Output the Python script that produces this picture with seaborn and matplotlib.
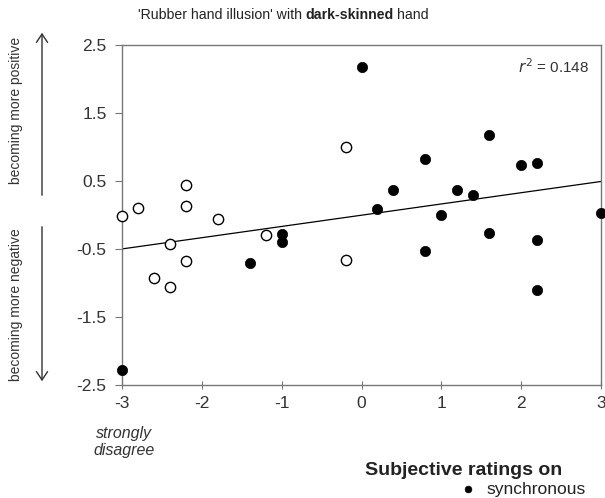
import numpy as np
import pandas as pd
import seaborn as sns
import matplotlib
matplotlib.use('Agg')
import matplotlib.pyplot as plt

# ratings (x) and change scores (y)
sync_x = [-3.0, -1.4, -1.0, -1.0, 0.0, 0.2, 0.4, 0.8, 0.8, 1.0, 1.2, 1.4, 1.6, 1.6, 2.0, 2.2, 2.2, 2.2, 3.0]
sync_y = [-2.28, -0.71, -0.28, -0.40, 2.17, 0.09, 0.37, 0.83, -0.53, 0.0, 0.37, 0.29, 1.17, -0.27, 0.73, 0.76, -0.37, -1.11, 0.03]
async_x = [-3.0, -2.8, -2.6, -2.4, -2.4, -2.2, -2.2, -2.2, -1.8, -1.2, -0.2, -0.2]
async_y = [-0.02, 0.10, -0.93, -0.42, -1.06, 0.44, 0.13, -0.67, -0.06, -0.29, 1.0, -0.66]

x_ticks = [-3, -2, -1, 0, 1, 2, 3]
y_ticks = [-2.5, -1.5, -0.5, 0.5, 1.5, 2.5]

df = pd.DataFrame({
    'rating': sync_x + async_x,
    'change': sync_y + async_y,
    'condition': ['synchronous'] * len(sync_x) + ['asynchronous'] * len(async_x),
})

sns.set_style('white')
plt.rcParams['font.family'] = ['Liberation Sans', 'DejaVu Sans']

fig = plt.figure(figsize=(6.05, 4.98), dpi=100)
ax = fig.add_axes([122 / 605, 113 / 498, 479 / 605, 340 / 498])
ax.set_xlim(-3, 3)
ax.set_ylim(-2.5, 2.5)

# regression over all points
sns.regplot(data=df, x='rating', y='change', scatter=False, ci=None, truncate=True,
            line_kws={'color': 'black', 'lw': 0.9}, ax=ax)

sns.scatterplot(data=df[df.condition == 'asynchronous'], x='rating', y='change',
                s=55, facecolor='white', edgecolor='black', linewidth=1.0, ax=ax,
                clip_on=False, zorder=3)
sns.scatterplot(data=df[df.condition == 'synchronous'], x='rating', y='change',
                s=55, color='black', edgecolor='black', linewidth=0.5, ax=ax,
                clip_on=False, zorder=4, label='synchronous')

ax.set_xlim(-3, 3)
ax.set_ylim(-2.5, 2.5)
ax.set_xticks(x_ticks)
ax.set_yticks(y_ticks)
ax.set_xticklabels([str(v) for v in x_ticks])
ax.set_yticklabels([f'{v:.1f}' for v in y_ticks])
ax.set_xlabel('')
ax.set_ylabel('')
for s in ax.spines.values():
    s.set_color('#777777')
    s.set_linewidth(1.0)
ax.tick_params(axis='y', direction='out', length=5, width=0.8, color='#777777',
               labelsize=12.5, labelcolor='#333333', pad=6, left=True)
ax.tick_params(axis='x', direction='inout', length=6, width=0.8, color='#777777',
               labelsize=12.5, labelcolor='#333333', pad=5, bottom=True)

ax.text(0.975, 0.935, r'$\it{r}^2$ = 0.148', transform=ax.transAxes, ha='right',
        va='center', fontsize=11, color='#333333')

# title in three pieces, each placed after the previous one
fig.canvas.draw()
renderer = fig.canvas.get_renderer()
x_px = 138
for piece, weight in [("'Rubber hand illusion' with", 'normal'),
                      ("dark-skinned", 'bold'), ("hand", 'normal')]:
    t = fig.text(x_px / 605, 1 - 15 / 498, piece, ha='left', va='center',
                 fontsize=10.2, fontweight=weight, color='#222222')
    x_px = t.get_window_extent(renderer).x1 + 3.5

# direction arrows at the left
fig.add_artist(matplotlib.patches.FancyArrowPatch(
    (42, 498 - 198), (42, 498 - 30), transform=None, arrowstyle='->,head_length=6,head_width=4',
    color='#333333', lw=1.0))
fig.add_artist(matplotlib.patches.FancyArrowPatch(
    (42, 498 - 224), (42, 498 - 384), transform=None, arrowstyle='->,head_length=6,head_width=4',
    color='#333333', lw=1.0))
fig.text(16 / 605, 1 - 110 / 498, 'becoming more positive', rotation=90, ha='center',
         va='center', fontsize=10, color='#333333')
fig.text(16 / 605, 1 - 305 / 498, 'becoming more negative', rotation=90, ha='center',
         va='center', fontsize=10, color='#333333')

fig.text(124 / 605, 1 - 442 / 498, 'strongly\ndisagree', ha='center', va='center',
         fontsize=11.5, style='italic', color='#333333', linespacing=1.1)
fig.text(365 / 605, 1 - 470 / 498, 'Subjective ratings on',
         ha='left', va='center', fontsize=14, fontweight='bold', color='#222222')

leg = ax.legend(loc='center left', bbox_to_anchor=(444 / 605, 1 - 489 / 498),
                bbox_transform=fig.transFigure, frameon=False, fontsize=12.5,
                handletextpad=0.05, markerscale=0.65, borderaxespad=0)
for t in leg.get_texts():
    t.set_color('#222222')

fig.savefig('out.png', dpi=100)
